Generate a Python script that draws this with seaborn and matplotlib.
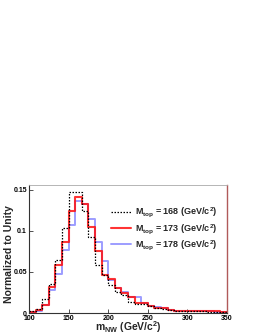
import numpy as np
import pandas as pd
import matplotlib
matplotlib.use('Agg')
import matplotlib.pyplot as plt
from matplotlib.lines import Line2D
import seaborn as sns

# bin edges: 30 bins from 100 to 350 GeV/c^2
edges = list(np.linspace(100, 350, 31))
centers = [0.5 * (a + b) for a, b in zip(edges[:-1], edges[1:])]

# normalized histogram contents
m168 = [0.002, 0.005, 0.017, 0.035, 0.065, 0.104, 0.147, 0.147, 0.124, 0.093,
        0.059, 0.046, 0.034, 0.026, 0.022, 0.013, 0.011, 0.011, 0.008, 0.006,
        0.0045, 0.004, 0.003, 0.003, 0.003, 0.002, 0.002, 0.0015, 0.001, 0.001]
m173 = [0.001, 0.004, 0.010, 0.032, 0.058, 0.086, 0.124, 0.141, 0.133, 0.105,
        0.076, 0.046, 0.042, 0.030, 0.024, 0.020, 0.012, 0.012, 0.009, 0.0065,
        0.0065, 0.004, 0.003, 0.003, 0.002, 0.002, 0.002, 0.002, 0.002, 0.001]
m178 = [0.001, 0.002, 0.010, 0.028, 0.047, 0.077, 0.107, 0.136, 0.133, 0.115,
        0.086, 0.063, 0.040, 0.030, 0.025, 0.020, 0.019, 0.012, 0.009, 0.007,
        0.006, 0.004, 0.003, 0.003, 0.003, 0.002, 0.002, 0.002, 0.0015, 0.001]

labels = [r'$\mathbf{M_{top}}$ = 168 (GeV/c$^{\mathbf{2}}$)',
          r'$\mathbf{M_{top}}$ = 173 (GeV/c$^{\mathbf{2}}$)',
          r'$\mathbf{M_{top}}$ = 178 (GeV/c$^{\mathbf{2}}$)']

sns.set_style('ticks')
plt.rcParams['font.family'] = ['Liberation Sans', 'DejaVu Sans']
plt.rcParams['font.weight'] = 'bold'
plt.rcParams['mathtext.fontset'] = 'custom'
plt.rcParams['mathtext.rm'] = 'Liberation Sans:bold'
plt.rcParams['mathtext.bf'] = 'Liberation Sans:bold'
plt.rcParams['mathtext.it'] = 'Liberation Sans:bold'
plt.rcParams['mathtext.default'] = 'bf'

fig = plt.figure(figsize=(2.58, 3.33), dpi=100)
ax = fig.add_axes([29 / 258, 20 / 333, 198 / 258, 128 / 333])

df = pd.DataFrame({'x': centers, 'm168': m168, 'm173': m173, 'm178': m178})

# blue first, red on top, black dotted on top of all
sns.histplot(x=df['x'], weights=df['m178'], bins=edges, element='step', fill=False,
             color='#7d7dff', alpha=0.75, linewidth=1.4, ax=ax)
sns.histplot(x=df['x'], weights=df['m173'], bins=edges, element='step', fill=False,
             color='#ff1010', alpha=0.85, linewidth=1.5, ax=ax)
sns.histplot(x=df['x'], weights=df['m168'], bins=edges, element='step', fill=False,
             color='black', linestyle=(0, (1.2, 1.2)), linewidth=0.9, ax=ax)

ax.set_xlim(100, 350)
ax.set_ylim(0, 0.156)
ax.set_xticks([100, 150, 200, 250, 300, 350])
ax.set_xticklabels(['100', '150', '200', '250', '300', '350'])
ax.set_yticks([0, 0.05, 0.1, 0.15])
ax.set_yticklabels(['0', '0.05', '0.1', '0.15'])
ax.tick_params(direction='in', length=3, width=0.6, labelsize=5, pad=1.5, colors='#333333')
ax.tick_params(axis='both', labelcolor='black')

for s in ['left', 'bottom']:
    ax.spines[s].set_color('#333333')
    ax.spines[s].set_linewidth(0.8)
ax.spines['top'].set_visible(True)
ax.spines['top'].set_color('#aaaaaa')
ax.spines['top'].set_linewidth(0.6)
ax.spines['right'].set_visible(True)
ax.spines['right'].set_color('#b05a5a')
ax.spines['right'].set_linewidth(1.0)

ax.set_xlabel(r'm$_{\mathbf{NW}}$ (GeV/c$^{\mathbf{2}}$)', fontsize=7.5, fontweight='bold')
ax.xaxis.set_label_coords(0.5, -0.045)
ax.set_ylabel('Normalized to Unity', fontsize=7.5, fontweight='bold')
ax.yaxis.set_label_coords(-0.078, 0.46)

handles = [Line2D([], [], color='black', linestyle=(0, (1.2, 1.2)), linewidth=0.9),
           Line2D([], [], color='#ff1010', alpha=0.85, linewidth=1.5),
           Line2D([], [], color='#7d7dff', alpha=0.75, linewidth=1.4)]
ax.legend(handles, labels, loc='upper left', bbox_to_anchor=(0.415, 0.84), frameon=False,
          fontsize=6.5, handlelength=2.2, handletextpad=0.4, labelspacing=0.27, borderpad=0,
          borderaxespad=0)

fig.savefig('out.png', dpi=100, facecolor='white')
